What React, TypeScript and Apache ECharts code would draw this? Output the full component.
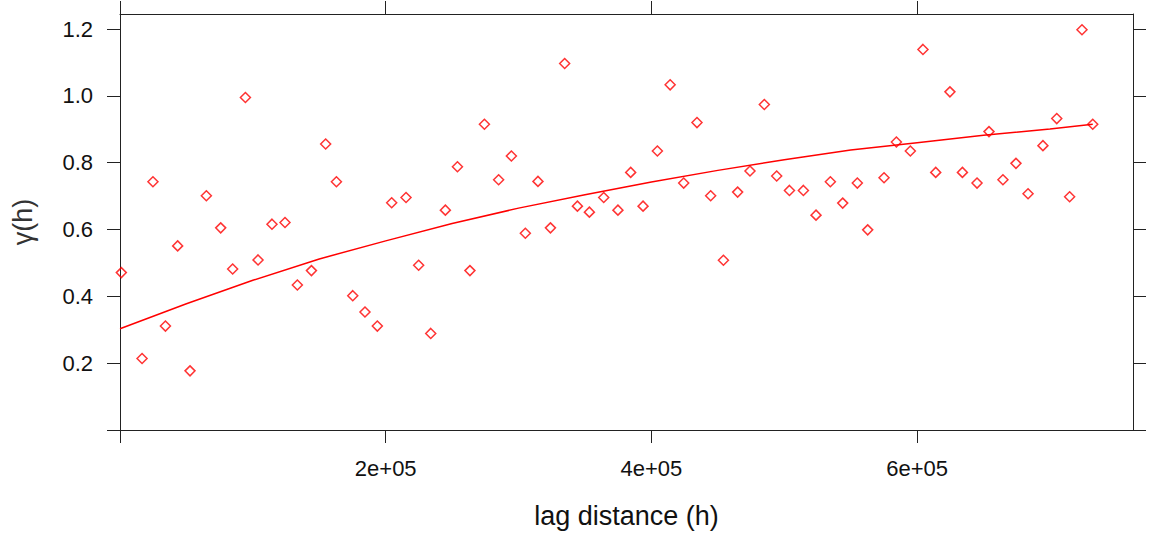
import React, { useEffect, useRef } from "react";
import * as echarts from "echarts";

// Empirical semivariogram (lag distance, gamma)
const lag = [
  1000, 16600, 24800, 34200, 43400, 52700, 65000, 75800, 84800, 94400,
  103900, 114400, 124200, 133500, 144100, 154800, 162900, 175200, 184400, 193700,
  204500, 215300, 224800, 233900, 244900, 254000, 263400, 274300, 285000, 294600,
  305100, 314600, 324000, 334700, 344300, 353300, 364100, 374800, 384400, 393700,
  404500, 414100, 424300, 434300, 444600, 454200, 464900, 474200, 485000, 494300,
  503900, 514400, 523900, 534700, 544000, 555000, 562800, 575100, 584400, 594900,
  604400, 614000, 624700, 634100, 645100, 654100, 664600, 674400, 683500, 694700,
  705100, 714800, 724100, 732200,
];
const gamma = [
  0.471, 0.214, 0.743, 0.311, 0.551, 0.177, 0.701, 0.605, 0.482, 0.995,
  0.509, 0.616, 0.621, 0.434, 0.477, 0.856, 0.743, 0.402, 0.353, 0.311,
  0.68, 0.696, 0.493, 0.289, 0.658, 0.788, 0.477, 0.915, 0.749, 0.82,
  0.589, 0.744, 0.605, 1.097, 0.67, 0.652, 0.696, 0.658, 0.771, 0.67,
  0.835, 1.033, 0.739, 0.92, 0.701, 0.508, 0.712, 0.775, 0.974, 0.76,
  0.717, 0.717, 0.643, 0.743, 0.679, 0.739, 0.599, 0.755, 0.862, 0.835,
  1.139, 0.771, 1.012, 0.771, 0.739, 0.893, 0.749, 0.798, 0.707, 0.851,
  0.932, 0.698, 1.198, 0.915,
];

// Fitted variogram model
const modelLag = [
  0, 50000, 100000, 150000, 200000, 250000, 300000, 350000, 400000, 450000,
  500000, 550000, 600000, 650000, 700000, 732200,
];
const modelGamma = [
  0.303, 0.378, 0.448, 0.512, 0.566, 0.618, 0.664, 0.704, 0.742, 0.777,
  0.809, 0.838, 0.86, 0.882, 0.901, 0.915,
];

const xTicks = [0, 200000, 400000, 600000];
const xTickLabels = [200000, 400000, 600000];
const yTicks = [0, 0.2, 0.4, 0.6, 0.8, 1.0, 1.2];
const yTickLabels = [0.2, 0.4, 0.6, 0.8, 1.0, 1.2];

const X_MAX = 762500;
const Y_MAX = 1.245;

const FONT = "'Liberation Sans', Arial, sans-serif";
const AXIS_COLOR = "#222";

export default function App() {
  const ref = useRef<HTMLDivElement>(null);

  useEffect(() => {
    if (!ref.current) return;
    const chart = echarts.init(ref.current, null, { renderer: "svg" });

    const axisLineStyle = { lineStyle: { color: AXIS_COLOR, width: 1 } };
    const tickStyle = { lineStyle: { color: AXIS_COLOR, width: 1 } };

    chart.setOption({
      animation: false,
      backgroundColor: "#fff",
      textStyle: { fontFamily: FONT },
      grid: {
        left: 120,
        right: 16,
        top: 14,
        bottom: 103,
        containLabel: false,
        outerBoundsMode: "none",
      },
      xAxis: [
        {
          type: "value",
          position: "bottom",
          min: 0,
          max: X_MAX,
          name: "lag distance (h)",
          nameLocation: "middle",
          nameGap: 72,
          nameTextStyle: { fontSize: 27, color: "#111", fontFamily: FONT },
          axisLine: { show: true, onZero: false, ...axisLineStyle },
          axisTick: {
            show: true,
            inside: false,
            length: 13,
            customValues: xTicks,
            ...tickStyle,
          },
          axisLabel: {
            show: true,
            margin: 27,
            fontSize: 22,
            color: "#111",
            fontFamily: FONT,
            customValues: xTickLabels,
            formatter: (v: number) => `${Math.round(v / 100000)}e+05`,
          },
          splitLine: { show: false },
        },
        {
          type: "value",
          position: "top",
          min: 0,
          max: X_MAX,
          axisLine: { show: true, onZero: false, ...axisLineStyle },
          axisTick: {
            show: true,
            inside: false,
            length: 13,
            customValues: xTicks,
            ...tickStyle,
          },
          axisLabel: { show: false },
          splitLine: { show: false },
        },
      ],
      yAxis: [
        {
          type: "value",
          position: "left",
          min: 0,
          max: Y_MAX,
          name: "γ(h)",
          nameLocation: "middle",
          nameRotate: 90,
          nameGap: 84,
          nameTextStyle: { fontSize: 27, color: "#333", fontFamily: FONT },
          axisLine: { show: true, onZero: false, ...axisLineStyle },
          axisTick: {
            show: true,
            inside: false,
            length: 13,
            customValues: yTicks,
            ...tickStyle,
          },
          axisLabel: {
            show: true,
            margin: 27,
            fontSize: 22,
            color: "#111",
            fontFamily: FONT,
            customValues: yTickLabels,
            formatter: (v: number) => v.toFixed(1),
          },
          splitLine: { show: false },
        },
        {
          type: "value",
          position: "right",
          min: 0,
          max: Y_MAX,
          axisLine: { show: true, onZero: false, ...axisLineStyle },
          axisTick: {
            show: true,
            inside: false,
            length: 13,
            customValues: yTicks,
            ...tickStyle,
          },
          axisLabel: { show: false },
          splitLine: { show: false },
        },
      ],
      series: [
        {
          name: "model",
          type: "line",
          xAxisIndex: 0,
          yAxisIndex: 0,
          data: modelLag.map((x, i) => [x, modelGamma[i]]),
          showSymbol: false,
          symbol: "none",
          smooth: false,
          lineStyle: { color: "#ff0000", width: 1.5 },
          clip: true,
          z: 2,
        },
        {
          name: "sample",
          type: "scatter",
          xAxisIndex: 0,
          yAxisIndex: 0,
          data: lag.map((x, i) => [x, gamma[i]]),
          symbol: "diamond",
          symbolSize: 10,
          clip: true,
          itemStyle: {
            color: "rgba(255,255,255,0)",
            borderColor: "#ff0000",
            borderWidth: 1.5,
          },
          z: 3,
        },
      ],
    });

    return () => {
      chart.dispose();
    };
  }, []);

  return (
    <div
      ref={ref}
      style={{
        position: "fixed",
        left: 0,
        top: 0,
        width: 1149,
        height: 533,
        background: "#fff",
      }}
    />
  );
}
